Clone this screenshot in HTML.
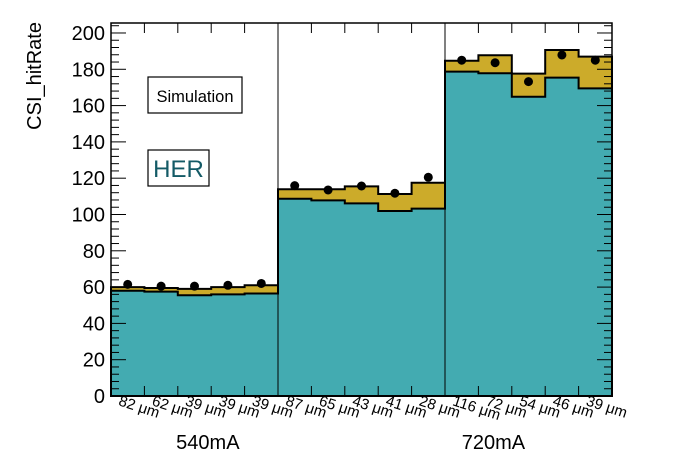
<!DOCTYPE html>
<html><head><meta charset="utf-8"><style>
body{margin:0;background:#fff}
svg{display:block;font-family:"Liberation Sans",sans-serif}
</style></head><body>
<svg id="c" width="696" height="472"></svg>
<script>
const categories=["82 μm","62 μm","39 μm","39 μm","39 μm","87 μm","65 μm","43 μm","41 μm","28 μm","116 μm","72 μm","54 μm","46 μm","39 μm"];
const groups=["540mA","720mA"];
const tealValues=[58,57.5,55.5,56,56.5,108.7,107.8,106.1,101.9,103.2,178.7,177.8,164.9,175.4,169.5];
const totalValues=[60,59.5,59,60,61,113.9,113.9,115.5,111.3,117.5,184.7,187.7,177.6,190.6,187];
const pointValues=[61.5,60.5,60.5,61,62,115.9,113.5,115.7,111.7,120.5,185,183.6,173.2,187.9,185];
const yTicks=[0,20,40,60,80,100,120,140,160,180,200];
const NS="http://www.w3.org/2000/svg";
const svg=document.getElementById('c');
const X0=111,X1=612,Y0=396,YT=23,YMAX=205.5;
const bw=(X1-X0)/categories.length;
const xs=i=>X0+i*bw;
const ys=v=>Y0-(v/YMAX)*(Y0-YT);
function mk(t,a,p){const e=document.createElementNS(NS,t);for(const k in a)e.setAttribute(k,a[k]);(p||svg).appendChild(e);return e;}
function stepPath(vals){let d=`M${xs(0)},${Y0}`;vals.forEach((v,i)=>{d+=` L${xs(i)},${ys(v)} L${xs(i+1)},${ys(v)}`;});d+=` L${xs(vals.length)},${Y0} Z`;return d;}
let g=mk('path',{d:stepPath(totalValues),fill:'#ccab2a',stroke:'#000','stroke-width':2});


let t=mk('path',{d:stepPath(tealValues),fill:'#43abb1',stroke:'#000','stroke-width':2});


[5,10].forEach(i=>{const l=mk('line',{x1:xs(i),x2:xs(i),y1:YT,y2:Y0,stroke:'#000','stroke-width':1});

});
pointValues.forEach((v,i)=>{const c=mk('circle',{cx:xs(i)+bw/2,cy:ys(v),r:4.5,fill:'#000'});

});
const fr=mk('rect',{x:X0,y:YT,width:X1-X0,height:Y0-YT,fill:'none',stroke:'#000','stroke-width':1.5});


for(let v=0;v<=YMAX;v+=4){const maj=v%20===0;const L=maj?15:8;
mk('line',{x1:X0,x2:X0+L,y1:ys(v),y2:ys(v),stroke:'#000'});
mk('line',{x1:X1,x2:X1-L,y1:ys(v),y2:ys(v),stroke:'#000'});}
yTicks.forEach(v=>{const tx=mk('text',{x:X0-6,y:ys(v)+7,'text-anchor':'end','font-size':20});tx.textContent=v;

});
categories.forEach((c,i)=>{
mk('line',{x1:xs(i),x2:xs(i),y1:Y0,y2:Y0-10,stroke:'#000'});
mk('line',{x1:xs(i),x2:xs(i),y1:YT,y2:YT+10,stroke:'#000'});
const tx=mk('text',{x:0,y:0,'font-size':15,transform:`translate(${xs(i)+bw/2-10},${Y0+9}) rotate(18)`});tx.textContent=c;

});
const gpos=[2.9,11.45];
groups.forEach((gname,k)=>{const tx=mk('text',{x:xs(gpos[k]),y:449,'text-anchor':'middle','font-size':20});tx.textContent=gname;

});
const yt=mk('text',{x:0,y:0,'text-anchor':'end','font-size':20,transform:'translate(41,22) rotate(-90)'});yt.textContent='CSI_hitRate';


const sb=mk('rect',{x:148,y:77,width:94,height:36,fill:'#fff',stroke:'#000','stroke-width':1.2});


const st=mk('text',{x:195,y:102,'text-anchor':'middle','font-size':16.5});st.textContent='Simulation';


const hb=mk('rect',{x:148,y:150,width:61,height:36,fill:'#fff',stroke:'#000','stroke-width':1.2});


const ht=mk('text',{x:178.5,y:177,'text-anchor':'middle','font-size':24,fill:'#135a66'});ht.textContent='HER';


</script>
</body></html>
